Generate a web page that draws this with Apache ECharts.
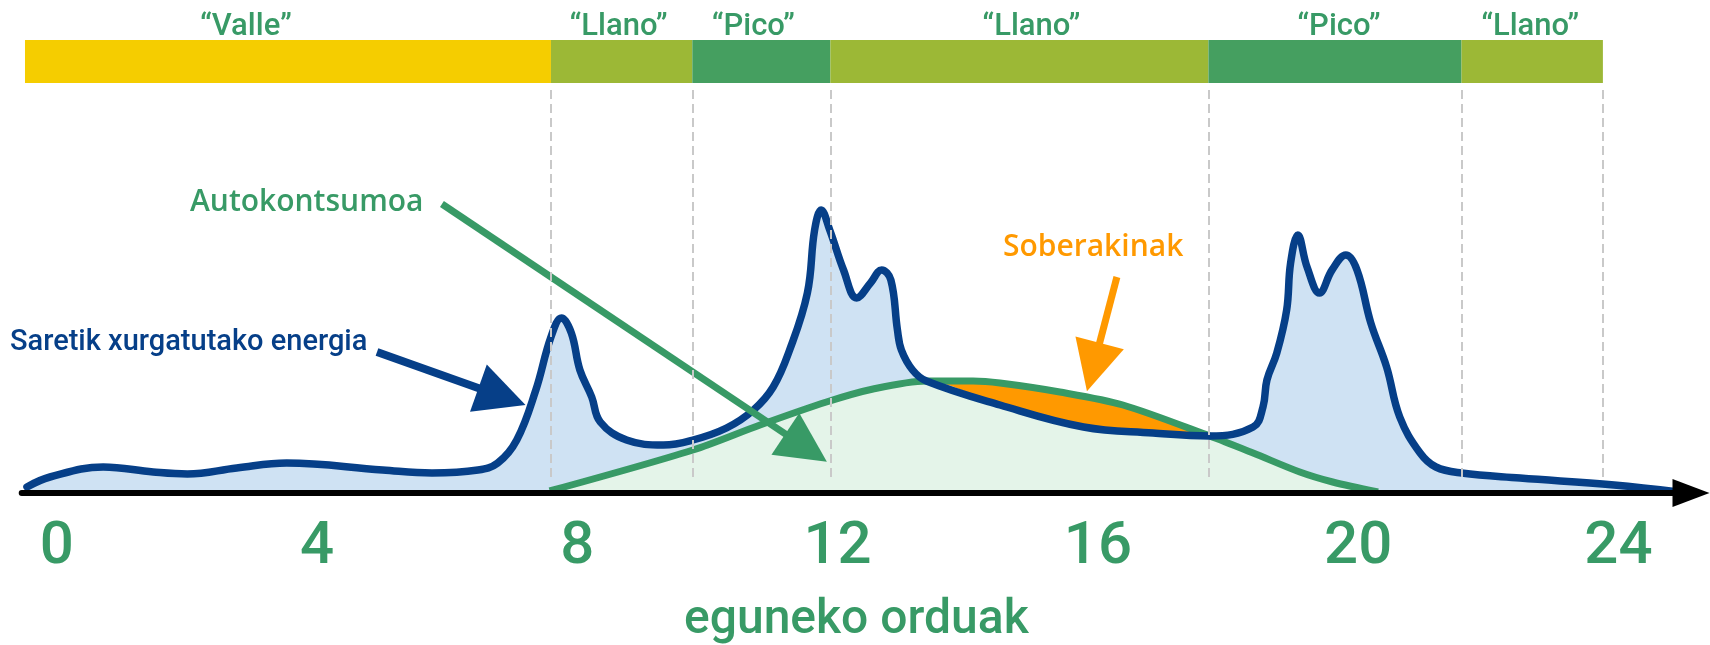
<!DOCTYPE html>
<html>
<head>
<meta charset="utf-8">
<script src="https://cdn.jsdelivr.net/npm/echarts@6/dist/echarts.min.js"></script>
<style>
html,body{margin:0;padding:0;background:#ffffff;}
#chart{width:1710px;height:645px;}
</style>
</head>
<body>
<div id="chart"></div>
<script>
// ---------- data ----------
const hourTicks = [0, 4, 8, 12, 16, 20, 24];

const tariffBounds = [0, 8, 10.15, 12.25, 18, 21.85, 24];
const tariffNames  = ['“Valle”', '“Llano”', '“Pico”', '“Llano”', '“Pico”', '“Llano”'];
const tariffKinds  = ['valle', 'llano', 'pico', 'llano', 'pico', 'llano'];

// Saretik xurgatutako energia (consumption curve)
const gridHours  = [0.03, 0.38, 1.19, 1.95, 2.47, 3.22, 3.98, 5.44, 6.19, 6.89,
                    7.19, 7.48, 7.77, 8.00, 8.16, 8.31, 8.44, 8.62, 8.75, 9.15,
                    9.71, 10.16, 10.67, 11.08, 11.38, 11.63, 11.90, 12.01, 12.11, 12.24,
                    12.45, 12.65, 12.86, 13.03, 13.17, 13.27, 13.33, 13.50, 13.71, 14.83,
                    16.10, 17.16, 18.02, 18.68, 18.83, 18.89, 19.04, 19.19, 19.25, 19.36,
                    19.50, 19.69, 19.88, 20.09, 20.26, 20.47, 20.71, 20.91, 21.22, 21.46,
                    21.85, 22.74, 24.17, 25.15];
const gridValues = [0.06, 0.16, 0.26, 0.21, 0.19, 0.25, 0.30, 0.23, 0.20, 0.23,
                    0.30, 0.53, 1.03, 1.56, 1.75, 1.60, 1.23, 0.96, 0.71, 0.53,
                    0.48, 0.53, 0.65, 0.83, 1.06, 1.43, 2.00, 2.63, 2.83, 2.63,
                    2.23, 1.95, 2.10, 2.23, 2.13, 1.63, 1.43, 1.23, 1.12, 0.88,
                    0.66, 0.60, 0.57, 0.66, 0.86, 1.13, 1.40, 1.83, 2.30, 2.58,
                    2.26, 2.00, 2.23, 2.38, 2.23, 1.70, 1.26, 0.76, 0.40, 0.26,
                    0.20, 0.15, 0.08, 0.01];

// Autokontsumoa (solar production curve)
const solarHours  = [7.98, 10.16, 11.18, 12.19, 12.90, 13.71, 14.42, 14.83, 15.74, 16.70, 18.02, 18.68, 19.39, 19.89, 20.58];
const solarValues = [0.02, 0.43, 0.68, 0.91, 1.04, 1.12, 1.12, 1.10, 1.01, 0.88, 0.57, 0.40, 0.21, 0.11, 0.01];

// Soberakinak: hours where production exceeds consumption
const surplusWindow = [13.71, 18.02];

// annotation arrows (hours, value units)
const arrowNames = ['Saretik xurgatutako energia', 'Autokontsumoa', 'Soberakinak'];
const arrowFrom  = [[5.354, 1.41], [6.342, 2.89], [16.608, 2.16]];
const arrowTo    = [[7.255, 0.965], [11.881, 0.452], [16.249, 1.26]];

// ---------- styles ----------
const BLUE = '#063F88';
const GREEN = '#389A66';
const ORANGE = '#FF9900';
const LIGHT_BLUE = '#CFE2F3';
const LIGHT_GREEN = '#E4F4E9';
const tariffColors = { valle: '#F5CD00', llano: '#9CB836', pico: '#459F60' };
const labelNudge = [-42, -3, -8, 12, 4, -2];
const arrowColors = [BLUE, GREEN, ORANGE];
const arrowWidths = [8, 7, 7];

const pairs = (hs, vs) => hs.map((h, i) => [h, vs[i]]);
const isIn = h => h >= surplusWindow[0] && h <= surplusWindow[1];

const gridData = pairs(gridHours, gridValues);
const solarData = pairs(solarHours, solarValues);
const surplusTop = solarData.filter(p => isIn(p[0]));
// light-green fill: production where it is below consumption, consumption inside the surplus window
const selfFill = solarData.filter(p => p[0] < surplusWindow[0])
  .concat(gridData.filter(p => isIn(p[0])))
  .concat(solarData.filter(p => p[0] > surplusWindow[1]));

const chart = echarts.init(document.getElementById('chart'), null, { renderer: 'canvas' });

const arrowSeries = arrowNames.map((n, i) => ({
  type: 'lines',
  name: n,
  coordinateSystem: 'cartesian2d',
  xAxisIndex: 0, yAxisIndex: 0,
  z: 7,
  symbol: ['none', 'triangle'],
  symbolSize: [37, 50],
  lineStyle: { color: arrowColors[i], width: arrowWidths[i], opacity: 1, curveness: 0 },
  data: [{ coords: [arrowFrom[i], arrowTo[i]] }],
  silent: true
}));

const SMOOTH_G = 0.4;
const SMOOTH_S = 0.3;

const option = {
  animation: false,
  backgroundColor: '#ffffff',
  grid: [
    { left: 21.7, right: 19, top: 90, bottom: 152, outerBoundsMode: 'none', containLabel: false },
    { left: 21.7, right: 19, top: 40, height: 43, outerBoundsMode: 'none', containLabel: false }
  ],
  xAxis: [
    { gridIndex: 0, type: 'value', position: 'top', min: -0.05, max: 25.34, show: false },
    {
      gridIndex: 0, type: 'value', position: 'bottom', min: -0.5394, max: 25.115, z: 10,
      axisLine: { show: true, onZero: false, symbol: ['none', 'triangle'], symbolSize: [28, 37],
                  lineStyle: { color: '#000000', width: 6 } },
      axisTick: { show: false },
      splitLine: { show: false },
      axisLabel: { customValues: hourTicks, fontSize: 60, fontWeight: 500, fontFamily: 'Roboto',
                   color: GREEN, margin: 25 },
      name: 'eguneko orduak', nameLocation: 'middle', nameGap: 104, nameMoveOverlap: false,
      nameTextStyle: { fontSize: 48, fontWeight: 500, fontFamily: 'Roboto', color: GREEN }
    },
    { gridIndex: 1, type: 'value', min: -0.05, max: 25.34, show: false }
  ],
  yAxis: [
    { gridIndex: 0, type: 'value', min: 0, max: 4.03, show: false },
    { gridIndex: 1, type: 'value', min: 0, max: 1, show: false }
  ],
  series: [
    { type: 'line', name: 'consumptionArea', data: gridData, smooth: SMOOTH_G, symbol: 'none', z: 1,
      lineStyle: { width: 0, opacity: 0 }, areaStyle: { color: LIGHT_BLUE, opacity: 1 }, silent: true },
    { type: 'line', name: 'Soberakinak', data: surplusTop, smooth: SMOOTH_S, symbol: 'none', z: 2,
      lineStyle: { width: 0, opacity: 0 }, areaStyle: { color: ORANGE, opacity: 1 }, silent: true },
    { type: 'line', name: 'selfFill', data: selfFill, smooth: SMOOTH_S, symbol: 'none', z: 3,
      lineStyle: { width: 0, opacity: 0 }, areaStyle: { color: LIGHT_GREEN, opacity: 1 }, silent: true },
    { type: 'line', name: 'Autokontsumoa', data: solarData, smooth: SMOOTH_S, symbol: 'none', z: 5,
      lineStyle: { color: GREEN, width: 7, cap: 'butt' }, silent: true },
    { type: 'line', name: 'Saretik xurgatutako energia', data: gridData, smooth: SMOOTH_G, symbol: 'none', z: 6,
      lineStyle: { color: BLUE, width: 7.5, cap: 'round', join: 'round' }, silent: true },
    ...arrowSeries,
    {
      type: 'lines', name: 'tariffDividers', coordinateSystem: 'cartesian2d', xAxisIndex: 0, yAxisIndex: 0, z: 8,
      symbol: ['none', 'none'],
      lineStyle: { color: '#C9C9C9', width: 2, type: [9, 5], opacity: 1 },
      data: tariffBounds.slice(1).map(b => ({ coords: [[b, 4.03], [b, 0.13]] })),
      silent: true
    },
    {
      type: 'custom', name: 'tariffs', xAxisIndex: 2, yAxisIndex: 1, z: 3,
      encode: { x: [0, 1] },
      data: tariffNames.map((n, i) => [tariffBounds[i], tariffBounds[i + 1]]),
      renderItem: function (params, api) {
        const i = params.dataIndex;
        const p0 = api.coord([api.value(0), 1]);
        const p1 = api.coord([api.value(1), 0]);
        return {
          type: 'group',
          children: [
            { type: 'rect', shape: { x: p0[0], y: p0[1], width: p1[0] - p0[0], height: p1[1] - p0[1] },
              style: { fill: tariffColors[tariffKinds[i]] } },
            { type: 'text', x: (p0[0] + p1[0]) / 2 + labelNudge[i], y: p0[1] + 3,
              style: { text: tariffNames[i], fill: GREEN, font: '500 31px Roboto', align: 'center', verticalAlign: 'bottom' } }
          ]
        };
      },
      silent: true
    }
  ],
  graphic: [
    { type: 'text', x: 10, y: 343, z: 100, silent: true,
      style: { text: arrowNames[0], fill: BLUE, font: '500 29px Roboto', verticalAlign: 'middle', align: 'left' } },
    { type: 'text', x: 190, y: 202, z: 100, silent: true,
      style: { text: arrowNames[1], fill: GREEN, font: '600 30px "Open Sans"', verticalAlign: 'middle', align: 'left' } },
    { type: 'text', x: 1003, y: 247, z: 100, silent: true,
      style: { text: arrowNames[2], fill: ORANGE, font: '600 30px "Open Sans"', verticalAlign: 'middle', align: 'left' } }
  ]
};

chart.setOption(option);
</script>
</body>
</html>
